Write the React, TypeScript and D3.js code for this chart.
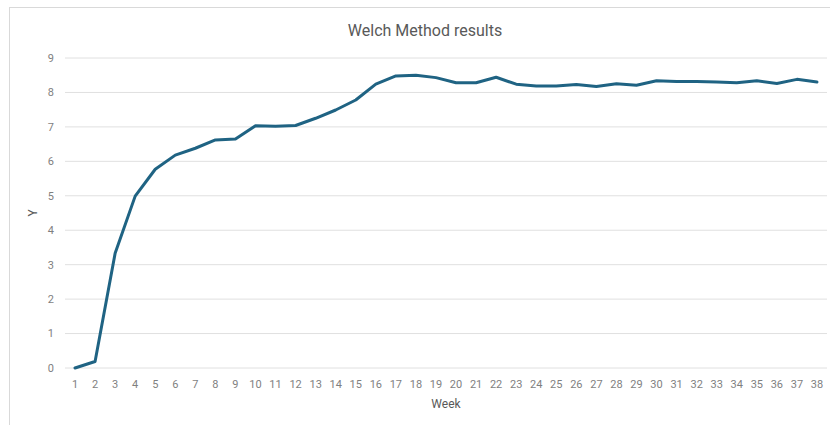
import React, { useEffect, useRef } from 'react';
import * as d3 from 'd3';

const weeks = d3.range(1, 39).map(String);
const yValues = [
  0, 0.19, 3.33, 4.99, 5.77, 6.18, 6.38, 6.62, 6.65, 7.03,
  7.02, 7.04, 7.25, 7.49, 7.78, 8.24, 8.48, 8.5, 8.43, 8.28,
  8.28, 8.44, 8.24, 8.19, 8.19, 8.23, 8.17, 8.25, 8.21, 8.34,
  8.32, 8.32, 8.3, 8.28, 8.34, 8.26, 8.38, 8.3,
];
const yTicks = [0, 1, 2, 3, 4, 5, 6, 7, 8, 9];

const App = () => {
  const chartRef = useRef<SVGSVGElement>(null);

  useEffect(() => {
    const W = 830;
    const H = 425;
    const margin = { top: 58, right: 3, bottom: 57, left: 65 };
    const width = W - margin.left - margin.right;
    const height = H - margin.top - margin.bottom;
    const font = 'Roboto, "Open Sans", sans-serif';
    const textColor = '#595959';
    const tickColor = '#7f7f7f';

    const svg = d3.select(chartRef.current);
    svg.selectAll('*').remove();

    svg.append('rect')
      .attr('x', 9.5).attr('y', 7.5)
      .attr('width', W + 20).attr('height', H + 20)
      .attr('fill', '#fff')
      .attr('stroke', '#d9d9d9')
      .attr('stroke-width', 1);

    const g = svg.append('g').attr('transform', `translate(${margin.left},${margin.top})`);

    const x = d3.scaleBand().domain(weeks).range([0, width]);
    const y = d3.scaleLinear().domain([0, 9]).range([height, 0]);

    g.append('g')
      .selectAll('line')
      .data(yTicks)
      .join('line')
      .attr('x1', 0).attr('x2', width)
      .attr('y1', d => y(d)).attr('y2', d => y(d))
      .attr('stroke', '#e0e0e0')
      .attr('stroke-width', 1);

    g.append('g')
      .selectAll('text')
      .data(yTicks)
      .join('text')
      .attr('x', -11)
      .attr('y', d => y(d))
      .attr('dy', '0.35em')
      .attr('text-anchor', 'end')
      .style('font-family', font)
      .style('font-size', '11px')
      .attr('fill', tickColor)
      .text(d => d);

    g.append('g')
      .selectAll('text')
      .data(weeks)
      .join('text')
      .attr('x', d => (x(d) ?? 0) + x.bandwidth() / 2)
      .attr('y', height + 16)
      .attr('dy', '0.35em')
      .attr('text-anchor', 'middle')
      .style('font-family', font)
      .style('font-size', '11px')
      .attr('fill', tickColor)
      .text(d => d);

    const line = d3.line<number>()
      .x((d, i) => (x(weeks[i]) ?? 0) + x.bandwidth() / 2)
      .y(d => y(d));

    g.append('path')
      .datum(yValues)
      .attr('fill', 'none')
      .attr('stroke', '#1f6383')
      .attr('stroke-width', 3)
      .attr('stroke-linejoin', 'round')
      .attr('stroke-linecap', 'round')
      .attr('d', line);

    svg.append('text')
      .attr('x', 425).attr('y', 30)
      .attr('dy', '0.35em')
      .attr('text-anchor', 'middle')
      .style('font-family', font)
      .style('font-size', '16px')
      .attr('fill', textColor)
      .text('Welch Method results');

    svg.append('text')
      .attr('x', margin.left + width / 2).attr('y', 404)
      .attr('dy', '0.35em')
      .attr('text-anchor', 'middle')
      .style('font-family', font)
      .style('font-size', '12px')
      .attr('fill', textColor)
      .text('Week');

    svg.append('text')
      .attr('transform', `translate(33,${margin.top + height / 2}) rotate(-90)`)
      .attr('dy', '0.35em')
      .attr('text-anchor', 'middle')
      .style('font-family', font)
      .style('font-size', '12px')
      .attr('fill', textColor)
      .text('Y');
  }, []);

  return (
    <svg
      ref={chartRef}
      width={830}
      height={425}
      style={{ position: 'absolute', left: 0, top: 0, background: '#fff' }}
    />
  );
};

export default App;
